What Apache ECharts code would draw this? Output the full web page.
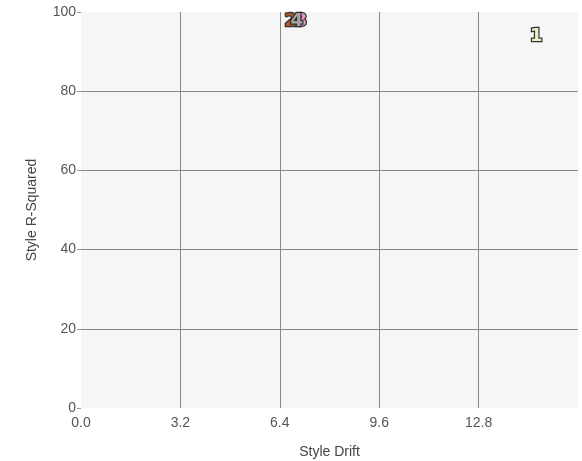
<!DOCTYPE html>
<html><head><meta charset="utf-8">
<script src="https://cdn.jsdelivr.net/npm/echarts@6/dist/echarts.min.js"></script>
<style>html,body{margin:0;padding:0;background:#fff}#c{width:582px;height:461px}</style>
</head><body><div id="c"></div>
<script>
const names = ['1','2','3','4'];
const styleDrift = [14.66, 6.75, 7.08, 6.95];
const rSquared = [93.8, 97.7, 97.7, 97.7];
const colors = ['#e4f2c6', '#a9592a', '#ee92c6', '#a3a3a3'];
const drawOrder = [0, 2, 1, 3];

const chart = echarts.init(document.getElementById('c'));
const series = drawOrder.map(i => ({
  type: 'scatter',
  symbol: 'circle',
  symbolSize: 1,
  itemStyle: {color: 'rgba(0,0,0,0)'},
  emphasis: {disabled: true},
  data: [[styleDrift[i], rSquared[i]]],
  label: {
    show: true, position: 'inside', formatter: names[i], opacity: 1,
    fontSize: 18, fontWeight: 'bold', fontFamily: 'DejaVu Sans',
    color: colors[i], textBorderColor: '#333', textBorderWidth: 2.5
  },
  z: 3
}));
chart.setOption({
  animation: false,
  grid: {left: 81, right: 4, top: 12, bottom: 53, show: true, backgroundColor: '#f6f6f6', borderWidth: 0,
    containLabel: false, outerBoundsMode: 'none'},
  xAxis: {
    type: 'value', min: 0, max: 16, interval: 3.2,
    name: 'Style Drift', nameLocation: 'middle', nameGap: 37,
    nameTextStyle: {color: '#444', fontSize: 14, fontFamily: 'Liberation Sans'},
    axisLine: {show: false}, axisTick: {show: false},
    axisLabel: {color: '#555', fontSize: 14, fontFamily: 'Liberation Sans', margin: 8, showMaxLabel: false,
      formatter: v => v.toFixed(1)},
    splitLine: {show: true, showMinLine: false, showMaxLine: false, lineStyle: {color: '#888', width: 1}}
  },
  yAxis: {
    type: 'value', min: 0, max: 100, interval: 20,
    name: 'Style R-Squared', nameLocation: 'middle', nameGap: 42,
    nameTextStyle: {color: '#444', fontSize: 14, fontFamily: 'Liberation Sans'},
    axisLine: {show: false}, axisTick: {show: true, length: 4, lineStyle: {color: '#999'}},
    axisLabel: {color: '#555', fontSize: 14, fontFamily: 'Liberation Sans', margin: 5},
    splitLine: {show: true, showMinLine: false, showMaxLine: false, lineStyle: {color: '#888', width: 1}}
  },
  series: series
});
</script></body></html>
